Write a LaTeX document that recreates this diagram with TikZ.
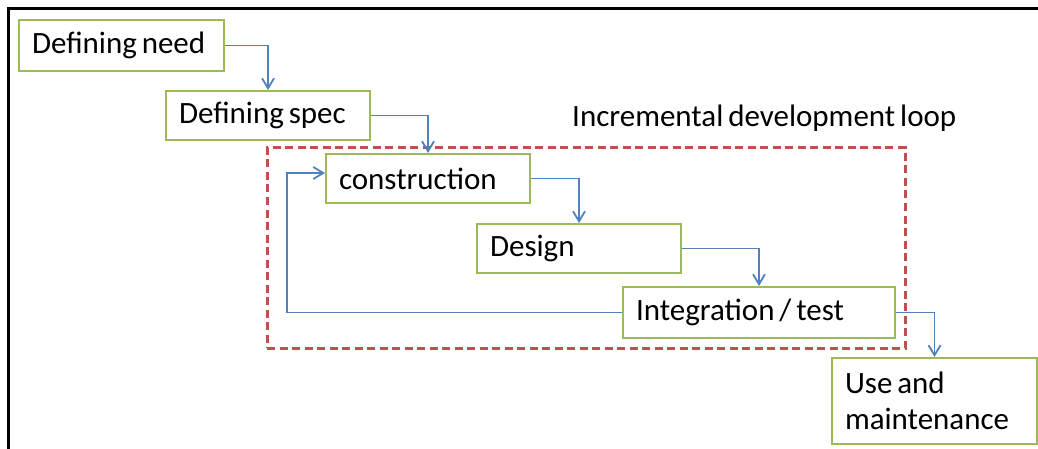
\documentclass[tikz,border=0pt]{standalone}
\usepackage{fontspec}
\setmainfont{Carlito}[WordSpace=0.7]
\usetikzlibrary{arrows.meta}

\definecolor{boxgreen}{RGB}{155,187,89}
\definecolor{flowblue}{RGB}{79,129,189}
\definecolor{loopred}{RGB}{192,80,77}

\begin{document}
\begin{tikzpicture}[
  x=1pt, y=-1pt,
  stagebox/.style={
    rectangle,
    draw=boxgreen,
    line width=2pt,
    inner xsep=13pt,
    inner ysep=0pt,
    minimum height=49pt,
    align=flush left,
    font=\fontsize{31}{36}\selectfont
  },
  flow/.style={
    draw=flowblue,
    line width=1.8pt,
    -{Straight Barb[length=10pt,width=12pt,line width=1.8pt]}
  },
  loopbox/.style={
    rectangle,
    draw=loopred,
    line width=3pt,
    dash pattern=on 8pt off 4.5pt,
    inner sep=0pt
  }]
  \useasboundingbox (0,0) rectangle (1038,449);
  % frame
  \draw[line width=2.8pt] (8.5,449) -- (8.5,8.5) -- (1038,8.5);
  % loop
  \node [loopbox, minimum width=638pt, minimum height=200pt] (loop) at (586,248) {};
  \node [anchor=base west, inner sep=0pt, font=\fontsize{31}{36}\selectfont] (looplabel)
    at (572,127) {Incremental development loop};
  % stages
  \node [stagebox, text width=179pt, minimum height=51pt] (need) at (121.5,45.5) {Defining need};
  \node [stagebox, text width=178pt] (spec) at (268,115.5) {Defining spec};
  \node [stagebox, text width=178pt] (constr) at (428,178.5) {construction};
  \node [stagebox, text width=178pt] (design) at (579,248.5) {Design};
  \node [stagebox, text width=246pt, minimum height=51pt] (integ) at (759,312.5) {Integration / test};
  \node [stagebox, text width=179pt, minimum height=86pt] (use) at (934.5,401) {Use and\\maintenance};
  % flow
  \draw[flow] (need.east) -| (spec.north);
  \draw[flow] (spec.east) -| (constr.north);
  \draw[flow] (constr.east) -| (design.north);
  \draw[flow] (design.east) -| (integ.north);
  \draw[flow] (integ.east) -| (use.north);
  % back to construction
  \draw[flow] (integ.west) -| ([xshift=-38pt,yshift=5.5pt]constr.west) -- ([yshift=5.5pt]constr.west);
\end{tikzpicture}
\end{document}
